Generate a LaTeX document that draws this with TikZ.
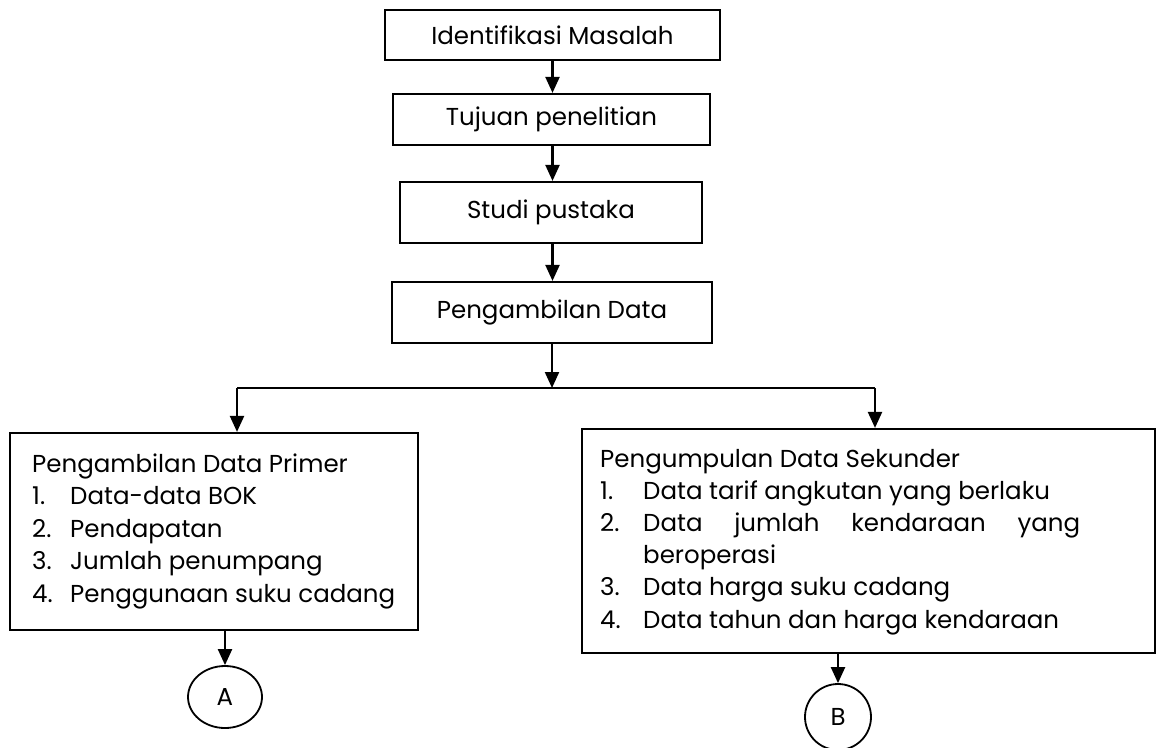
\documentclass[tikz,border=0pt]{standalone}
\usepackage{fontspec}
\setmainfont{Poppins}
\usetikzlibrary{arrows.meta,shapes.geometric}
\begin{document}
\begin{tikzpicture}[x=1pt,y=-1pt,
  box/.style={draw,line width=2.2pt,inner sep=0pt,font=\fontsize{24.5}{29}\selectfont},
  lbl/.style={anchor=base west,inner sep=0pt,font=\fontsize{24.5}{29}\selectfont},
  arr/.style={line width=2.2pt,-{Triangle[length=16pt,width=14pt]}},
  ln/.style={line width=2.2pt},
  conn/.style={draw,ellipse,line width=1.8pt,inner sep=0pt,font=\fontsize{24.5}{29}\selectfont}]
\useasboundingbox (0,0) rectangle (1156,747);
% main chain
\node[box,minimum width=335pt,minimum height=50pt] (b1) at (552.5,35) {Identifikasi Masalah};
\node[box,minimum width=317pt,minimum height=51pt] (b2) at (551.5,119.5) {Tujuan penelitian};
\node[box,minimum width=302pt,minimum height=61pt] (b3) at (551,212.5) {Studi pustaka};
\node[box,minimum width=320pt,minimum height=61pt] (b4) at (552,312.5) {Pengambilan Data};
\draw[arr] (b1.south) -- (b1.south |- b2.north);
\draw[arr] (b1.south |- b2.south) -- (b1.south |- b3.north);
\draw[arr] (b1.south |- b3.south) -- (b1.south |- b4.north);
% split
\coordinate (sp) at (552,388);
\coordinate (L) at (237,388);
\coordinate (R) at (875,388);
\draw[arr] (b4.south) -- (sp);
\draw[ln] (L) -- (R);
% left box
\node[box,minimum width=408pt,minimum height=197pt] (prim) at (214,531.5) {};
\node[lbl] (p0) at (32,472) {Pengambilan Data Primer};
\node[lbl] (p1n) at (32,504) {1.};
\node[lbl] (p1) at (70,504) {Data-data BOK};
\node[lbl] (p2n) at (32,537) {2.};
\node[lbl] (p2) at (70,537) {Pendapatan};
\node[lbl] (p3n) at (32,569) {3.};
\node[lbl] (p3) at (70,569) {Jumlah penumpang};
\node[lbl] (p4n) at (32,602) {4.};
\node[lbl] (p4) at (70,602) {Penggunaan suku cadang};
% right box
\node[box,minimum width=573pt,minimum height=224pt] (sek) at (868.5,541) {};
\node[lbl] (s0) at (600,467) {Pengumpulan Data Sekunder};
\node[lbl] (s1n) at (600,499) {1.};
\node[lbl] (s1) at (643,499) {Data tarif angkutan yang berlaku};
\node[lbl] (s2n) at (600,531) {2.};
\node[lbl] (s2) at (643,531) {\hbox to 437pt{Data\hfill jumlah\hfill kendaraan\hfill yang}};
\node[lbl] (s2b) at (643,563) {beroperasi};
\node[lbl] (s3n) at (600,595) {3.};
\node[lbl] (s3) at (643,595) {Data harga suku cadang};
\node[lbl] (s4n) at (600,628) {4.};
\node[lbl] (s4) at (643,628) {Data tahun dan harga kendaraan};
\draw[arr] (L) -- (L |- prim.north);
\draw[arr] (R) -- (R |- sek.north);
% connectors
\node[conn,minimum width=74pt,minimum height=62pt] (A) at (225,697) {A};
\node[conn,minimum width=66pt,minimum height=66pt] (B) at (838,717) {B};
\draw[arr] (A |- prim.south) -- (A.north);
\draw[arr] (B |- sek.south) -- (B.north);
\end{tikzpicture}
\end{document}
